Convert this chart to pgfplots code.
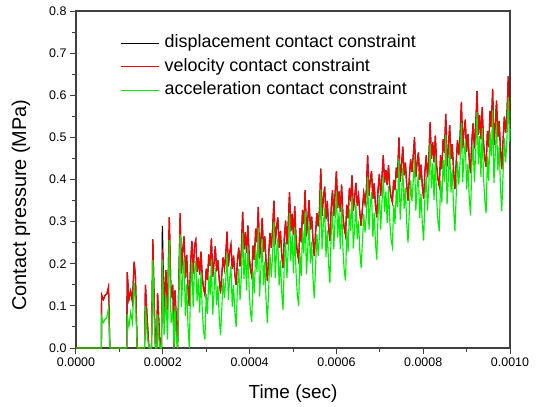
\documentclass[border=0pt]{standalone}
\usepackage{fontspec}
\setmainfont{Liberation Sans}
\usepackage{pgfplots}
\usepackage{pgfplotstable}
\pgfplotsset{compat=1.18}
\definecolor{lgreen}{RGB}{0,240,0}
\definecolor{axgray}{RGB}{64,64,64}

\pgfplotstableread{
t d v a
0 0 0 0
0.0000585 0 0 0
0.0000590 0.126 0.126 0.074
0.0000630 0.115 0.115 0.060
0.0000670 0.125 0.125 0.068
0.0000710 0.128 0.128 0.072
0.0000750 0.145 0.145 0.095
0.0000780 0 0 0
0.0001170 0 0 0
0.0001180 0.180 0.180 0.080
0.0001220 0.115 0.115 0.050
0.0001260 0.135 0.135 0.085
0.0001300 0.110 0.110 0.060
0.0001340 0.205 0.205 0.155
0.0001370 0.170 0.170 0.110
0.0001410 0 0 0
0.0001580 0 0 0
0.0001600 0.150 0.150 0.100
0.0001640 0.070 0.070 0.030
0.0001680 0 0 0
0.0001740 0 0 0
0.0001770 0.258 0.258 0.209
0.0001800 0.120 0.120 0.070
0.0001830 0 0 0
0.0001860 0 0 0
0.0001880 0.130 0.130 0.080
0.0001910 0.060 0.060 0.020
0.0001940 0 0 0
0.0001970 0 0 0
0.0001990 0.290 0.235 0.210
0.0002030 0.090 0.083 0.030
0.0002070 0.185 0.185 0.125
0.0002110 0.090 0.090 0.020
0.0002150 0.310 0.310 0.256
0.0002190 0.120 0.120 0.060
0.0002230 0.150 0.150 0.090
0.0002260 0 0 0
0.0002280 0.137 0.137 0.100
0.0002310 0.070 0.070 0.020
0.0002340 0 0 0
}\early

\pgfplotstableread{
t v a
0.000234 0 0
0.000240 0.320 0.270
0.000243 0.177 0.097
0.000246 0.232 0.172
0.000249 0.265 0.215
0.000252 0.166 0.076
0.000255 0.221 0.151
0.000258 0.144 0.054
0.000261 0.100 0.000
0.000264 0.199 0.139
0.000267 0.254 0.204
0.000270 0.177 0.097
0.000273 0.243 0.183
0.000276 0.256 0.206
0.000279 0.181 0.111
0.000282 0.215 0.165
0.000285 0.174 0.084
0.000288 0.229 0.179
0.000291 0.168 0.088
0.000294 0.140 0.040
0.000297 0.127 0.020
0.000300 0.188 0.128
0.000303 0.161 0.081
0.000306 0.222 0.172
0.000309 0.195 0.125
0.000312 0.260 0.210
0.000315 0.169 0.079
0.000318 0.202 0.132
0.000321 0.241 0.191
0.000324 0.182 0.102
0.000327 0.208 0.148
0.000330 0.163 0.073
0.000333 0.130 0.030
0.000336 0.176 0.096
0.000339 0.215 0.165
0.000342 0.189 0.119
0.000345 0.221 0.161
0.000348 0.276 0.226
0.000351 0.194 0.114
0.000354 0.226 0.166
0.000357 0.245 0.195
0.000360 0.188 0.098
0.000363 0.219 0.149
0.000366 0.175 0.085
0.000369 0.150 0.050
0.000372 0.207 0.147
0.000375 0.238 0.188
0.000378 0.194 0.114
0.000381 0.232 0.172
0.000384 0.323 0.273
0.000387 0.234 0.164
0.000390 0.275 0.225
0.000393 0.226 0.136
0.000396 0.291 0.241
0.000399 0.218 0.138
0.000402 0.186 0.086
0.000405 0.170 0.062
0.000408 0.243 0.183
0.000411 0.210 0.130
0.000414 0.283 0.233
0.000417 0.251 0.181
0.000420 0.335 0.285
0.000423 0.212 0.122
0.000426 0.256 0.186
0.000429 0.309 0.259
0.000432 0.229 0.149
0.000435 0.265 0.205
0.000438 0.203 0.113
0.000441 0.159 0.059
0.000444 0.221 0.141
0.000447 0.273 0.223
0.000450 0.238 0.168
0.000453 0.282 0.222
0.000456 0.350 0.300
0.000459 0.246 0.166
0.000462 0.286 0.226
0.000465 0.310 0.260
0.000468 0.238 0.148
0.000471 0.278 0.208
0.000474 0.222 0.132
0.000477 0.190 0.090
0.000480 0.262 0.202
0.000483 0.302 0.252
0.000486 0.246 0.166
0.000489 0.294 0.234
0.000492 0.370 0.320
0.000495 0.277 0.207
0.000498 0.319 0.269
0.000501 0.268 0.178
0.000504 0.336 0.286
0.000507 0.260 0.180
0.000510 0.226 0.126
0.000513 0.209 0.100
0.000516 0.285 0.225
0.000519 0.251 0.171
0.000522 0.328 0.278
0.000525 0.294 0.224
0.000528 0.375 0.325
0.000531 0.265 0.175
0.000534 0.304 0.234
0.000537 0.351 0.301
0.000540 0.281 0.201
0.000543 0.312 0.252
0.000546 0.257 0.167
0.000549 0.218 0.118
0.000552 0.273 0.193
0.000555 0.320 0.270
0.000558 0.289 0.219
0.000561 0.328 0.268
0.000564 0.426 0.376
0.000567 0.314 0.234
0.000570 0.357 0.297
0.000573 0.383 0.333
0.000576 0.306 0.216
0.000579 0.349 0.279
0.000582 0.288 0.198
0.000585 0.254 0.154
0.000588 0.331 0.271
0.000591 0.374 0.324
0.000594 0.314 0.234
0.000597 0.366 0.306
0.000600 0.420 0.370
0.000603 0.332 0.262
0.000606 0.372 0.322
0.000609 0.324 0.234
0.000612 0.388 0.338
0.000615 0.316 0.236
0.000618 0.284 0.184
0.000621 0.268 0.160
0.000624 0.340 0.280
0.000627 0.308 0.228
0.000630 0.380 0.330
0.000633 0.348 0.278
0.000636 0.410 0.360
0.000639 0.326 0.236
0.000642 0.356 0.286
0.000645 0.392 0.342
0.000648 0.338 0.258
0.000651 0.362 0.302
0.000654 0.320 0.230
0.000657 0.290 0.190
0.000660 0.332 0.252
0.000663 0.368 0.318
0.000666 0.344 0.274
0.000669 0.374 0.314
0.000672 0.457 0.407
0.000675 0.361 0.281
0.000678 0.398 0.338
0.000681 0.420 0.370
0.000684 0.354 0.264
0.000687 0.391 0.321
0.000690 0.339 0.249
0.000693 0.310 0.210
0.000696 0.376 0.316
0.000699 0.413 0.363
0.000702 0.361 0.281
0.000705 0.406 0.346
0.000708 0.457 0.407
0.000711 0.393 0.323
0.000714 0.422 0.372
0.000717 0.387 0.297
0.000720 0.434 0.384
0.000723 0.381 0.301
0.000726 0.358 0.258
0.000729 0.346 0.240
0.000732 0.399 0.339
0.000735 0.375 0.295
0.000738 0.428 0.378
0.000741 0.404 0.334
0.000744 0.500 0.450
0.000747 0.395 0.305
0.000750 0.433 0.363
0.000753 0.478 0.428
0.000756 0.410 0.330
0.000759 0.440 0.380
0.000762 0.388 0.298
0.000765 0.350 0.250
0.000768 0.403 0.323
0.000771 0.448 0.398
0.000774 0.418 0.348
0.000777 0.455 0.395
0.000780 0.500 0.450
0.000783 0.406 0.326
0.000786 0.442 0.382
0.000789 0.464 0.414
0.000792 0.399 0.309
0.000795 0.435 0.365
0.000798 0.384 0.294
0.000801 0.355 0.255
0.000804 0.420 0.360
0.000807 0.457 0.407
0.000810 0.406 0.326
0.000813 0.449 0.389
0.000816 0.536 0.486
0.000819 0.449 0.379
0.000822 0.488 0.438
0.000825 0.441 0.351
0.000828 0.504 0.454
0.000831 0.433 0.353
0.000834 0.401 0.301
0.000837 0.385 0.277
0.000840 0.457 0.397
0.000843 0.425 0.345
0.000846 0.496 0.446
0.000849 0.464 0.394
0.000852 0.556 0.506
0.000855 0.431 0.341
0.000858 0.475 0.405
0.000861 0.529 0.479
0.000864 0.449 0.369
0.000867 0.484 0.424
0.000870 0.422 0.332
0.000873 0.377 0.277
0.000876 0.440 0.360
0.000879 0.493 0.443
0.000882 0.458 0.388
0.000885 0.502 0.442
0.000888 0.584 0.534
0.000891 0.474 0.394
0.000894 0.516 0.456
0.000897 0.542 0.492
0.000900 0.466 0.376
0.000903 0.508 0.438
0.000906 0.449 0.359
0.000909 0.415 0.315
0.000912 0.491 0.431
0.000915 0.533 0.483
0.000918 0.474 0.394
0.000921 0.525 0.465
0.000924 0.610 0.560
0.000927 0.506 0.436
0.000930 0.553 0.503
0.000933 0.496 0.406
0.000936 0.572 0.522
0.000939 0.487 0.407
0.000942 0.449 0.349
0.000945 0.430 0.320
0.000948 0.515 0.455
0.000951 0.477 0.397
0.000954 0.563 0.513
0.000957 0.525 0.455
0.000960 0.615 0.565
0.000963 0.482 0.392
0.000966 0.530 0.460
0.000969 0.587 0.537
0.000972 0.501 0.421
0.000975 0.539 0.479
0.000978 0.473 0.383
0.000981 0.425 0.325
0.000984 0.492 0.412
0.000987 0.549 0.499
0.000990 0.511 0.441
0.000993 0.558 0.498
0.000996 0.645 0.596
0.000999 0.560 0.490
0.001000 0.580 0.520
}\main

\begin{document}
\begin{tikzpicture}
\begin{axis}[
  scale only axis, width=434bp, height=337bp,
  xmin=0, xmax=0.001, ymin=0, ymax=0.8,
  xtick={0,0.0002,0.0004,0.0006,0.0008,0.001},
  ytick={0,0.1,0.2,0.3,0.4,0.5,0.6,0.7,0.8},
  minor x tick num=1, minor y tick num=1,
  scaled x ticks=false, scaled y ticks=false,
  /pgf/number format/assume math mode=true,
  xticklabel style={/pgf/number format/.cd, fixed, fixed zerofill, precision=4, /tikz/.cd, font=\fontsize{12.5}{14}\selectfont},
  yticklabel style={/pgf/number format/.cd, fixed, fixed zerofill, precision=1, /tikz/.cd, font=\fontsize{12.5}{14}\selectfont},
  tick align=outside, xtick pos=bottom, ytick pos=left,
  major tick length=6bp, minor tick length=3.5bp,
  axis line style={draw=axgray, line width=1.2bp},
  every tick/.style={draw=axgray, line width=1bp},
  xlabel={Time (sec)}, ylabel={Contact pressure (MPa)},
  xlabel style={font=\fontsize{19}{22}\selectfont, at={(rel axis cs:0.5,-0.1513)}, anchor=base},
  ylabel style={font=\fontsize{20}{23}\selectfont, at={(rel axis cs:-0.1267,0.424)}, anchor=center},
  legend style={draw=none, fill=none, at={(rel axis cs:0.101,0.935)}, anchor=north west,
    font=\fontsize{18}{21}\selectfont, row sep=3.5bp, inner sep=0bp,
    nodes={inner sep=1.5bp, text height=13bp, text depth=4bp}},
  legend cell align=left,
  legend image code/.code={\draw[#1] (0bp,0bp) -- (38bp,0bp);},
  clip=false,
]
\coordinate (o) at (rel axis cs:0,0);
\addplot[black, line width=1.15bp] table[x=t, y=d] {\early};
\addlegendentry{\hspace{4bp}displacement contact constraint}
\addplot[black, line width=1.15bp, forget plot] table[x=t, y=v] {\main};
\addplot[red, line width=1.15bp] table[x=t, y=v] {\early};
\addlegendentry{\hspace{4bp}velocity contact constraint}
\addplot[red, line width=1.15bp, forget plot] table[x=t, y=v] {\main};
\addplot[lgreen, line width=1.15bp] table[x=t, y=a] {\early};
\addlegendentry{\hspace{4bp}acceleration contact constraint}
\addplot[lgreen, line width=1.15bp, forget plot] table[x=t, y=a] {\main};
\end{axis}
\pgfresetboundingbox
\path[use as bounding box] (o) ++(-76bp,-59bp) rectangle ++(542bp,407bp);
\end{tikzpicture}
\end{document}
